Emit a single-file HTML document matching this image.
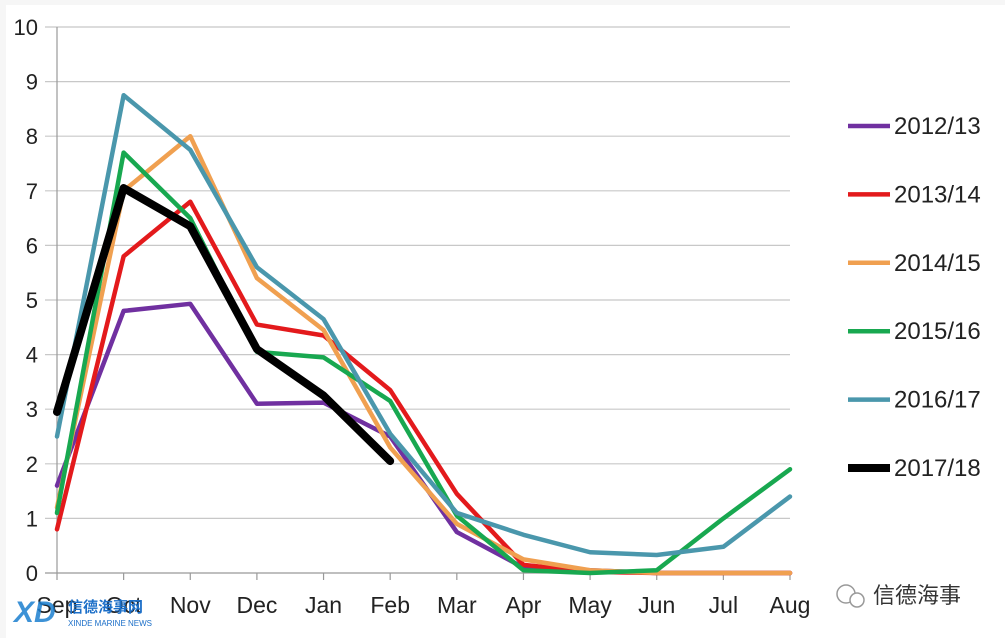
<!DOCTYPE html>
<html><head><meta charset="utf-8"><style>
body{margin:0;background:#ffffff;}
svg{display:block;font-family:"Liberation Sans",Arial,sans-serif;}
</style></head><body>
<svg id="chart" width="1005" height="638">
<rect x="0" y="0" width="1005" height="638" fill="#f6f6f6"/>
<rect x="6" y="5" width="999" height="633" fill="#ffffff"/>
<g id="grid"></g><g id="axes"></g><g id="series"></g><g id="legend"></g>
<g>
<text x="14" y="622" font-size="30" font-weight="bold" font-style="italic" fill="#1c7fd0" opacity="0.85">XD</text>
<text x="68" y="612" font-size="15" fill="#1c6fc8" font-family="'Liberation Sans','Noto Sans CJK SC',sans-serif" font-weight="bold">信德海事网</text>
<text x="68" y="626" font-size="8" fill="#1c6fc8">XINDE MARINE NEWS</text>
</g>
<g>
<circle cx="846" cy="594" r="9" fill="none" stroke="#999" stroke-width="1.5"/>
<circle cx="857" cy="600" r="7" fill="#fff" stroke="#999" stroke-width="1.5"/>
<text x="873" y="603" font-size="22" fill="#333" font-family="'Liberation Sans','Noto Sans CJK SC',sans-serif">信德海事</text>
</g>
</svg>
<script>
const categories=["Sep","Oct","Nov","Dec","Jan","Feb","Mar","Apr","May","Jun","Jul","Aug"];
const yTicks=[0,1,2,3,4,5,6,7,8,9,10];
const seriesNames=["2012/13","2013/14","2014/15","2015/16","2016/17","2017/18"];
const s2012=[1.6,4.8,4.93,3.1,3.12,2.5,0.75,0.1,0.05,0,0,0];
const s2013=[0.8,5.8,6.8,4.55,4.35,3.35,1.45,0.15,0.02,0,0,0];
const s2014=[1.2,7.0,8.0,5.4,4.45,2.3,0.9,0.25,0.05,0,0,0];
const s2015=[1.1,7.7,6.5,4.05,3.95,3.15,1.05,0.05,0,0.05,1.0,1.9];
const s2016=[2.5,8.75,7.75,5.6,4.65,2.55,1.1,0.7,0.38,0.33,0.48,1.4];
const s2017=[2.95,7.05,6.35,4.1,3.25,2.05];
const colors=["#7030a0","#e31a1c","#f0a050","#18a850","#4a97ac","#000000"];
const NS="http://www.w3.org/2000/svg";
const x0=57,x1=790,yB=573,yT=27;
function xs(i){return x0+i*(x1-x0)/(categories.length-1);}
function ys(v){return yB-v*(yB-yT)/10;}
function mk(t,a,p){const e=document.createElementNS(NS,t);for(const k in a)e.setAttribute(k,a[k]);p.appendChild(e);return e;}
const grid=document.getElementById('grid'),axes=document.getElementById('axes');
yTicks.forEach(v=>{
 const l=mk('line',{x1:45,x2:x1,y1:ys(v),y2:ys(v),stroke:v===0?'#999':'#c8c8c8','stroke-width':1.2},grid);
 
 
 const t=mk('text',{x:38,y:ys(v)+8,'text-anchor':'end','font-size':22,fill:'#222'},axes);
 t.textContent=v;
 
 
});
const ax=mk('line',{x1:x0,x2:x0,y1:yT,y2:yB,stroke:'#999','stroke-width':1.2},axes);


categories.forEach((c,i)=>{
 const tk=mk('line',{x1:xs(i),x2:xs(i),y1:yB,y2:yB+7,stroke:'#999','stroke-width':1.2},axes);
 
 
 const t=mk('text',{x:xs(i),y:613,'text-anchor':'middle','font-size':23,fill:'#222'},axes);
 t.textContent=c;
 
 
});
const all=[s2012,s2013,s2014,s2015,s2016,s2017];
const ser=document.getElementById('series');
all.forEach((d,k)=>{
 const pts=d.map((v,i)=>xs(i)+','+ys(v)).join(' ');
 const p=mk('polyline',{points:pts,fill:'none',stroke:colors[k],'stroke-width':k===5?8:4.5,'stroke-linejoin':'round','stroke-linecap':'round'},ser);
 
 
});
const leg=document.getElementById('legend');
seriesNames.forEach((n,k)=>{
 const y=126+k*68.4;
 const g=mk('g',{},leg);
 
 
 mk('line',{x1:848,x2:890,y1:y,y2:y,stroke:colors[k],'stroke-width':k===5?8:4.5},g);
 const t=mk('text',{x:894,y:y+8,'font-size':24,fill:'#222'},g);
 t.textContent=n;
});
</script>
</body></html>
